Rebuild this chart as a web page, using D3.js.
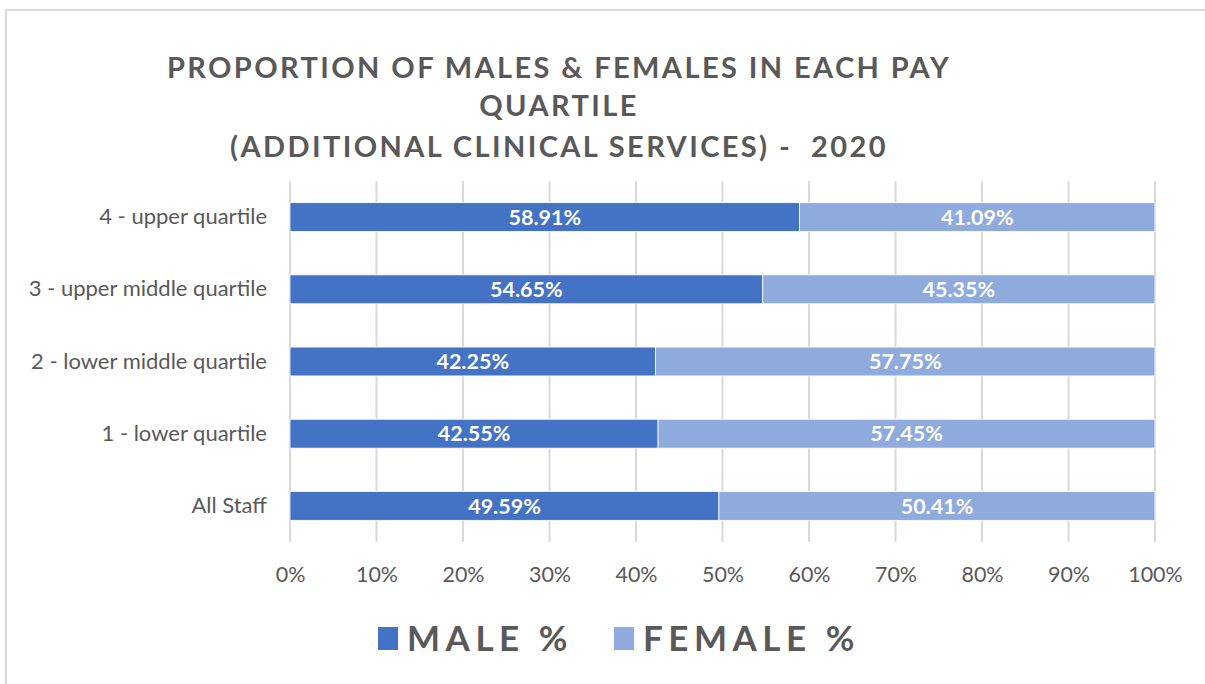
<!DOCTYPE html>
<html>
<head>
<meta charset="utf-8">
<script src="https://cdn.jsdelivr.net/npm/d3@7"></script>
<style>
	body { margin: 0; background: #fff; }
	text { font-family: Lato, "Open Sans", sans-serif; }
</style>
</head>
<body>
<div id="chart"></div>
<script>
	// chart data
	var categories = ["4 - upper quartile", "3 - upper middle quartile", "2 - lower middle quartile", "1 - lower quartile", "All Staff"];
	var maleValues = [58.91, 54.65, 42.25, 42.55, 49.59];
	var femaleValues = [41.09, 45.35, 57.75, 57.45, 50.41];
	var seriesNames = ["MALE %", "FEMALE %"];
	var seriesColors = ["#4472C4", "#8FAADC"];
	var titleLines = ["PROPORTION OF MALES & FEMALES IN EACH PAY", "QUARTILE", "(ADDITIONAL CLINICAL SERVICES) -  2020"];
	var xTicks = [0, 10, 20, 30, 40, 50, 60, 70, 80, 90, 100];

	var width = 1205, height = 684;
	var svg = d3.select("#chart").append("svg")
		.attr("width", width)
		.attr("height", height);

	// chart border (only top & left visible in the crop)
	svg.append("line").attr("x1", 6).attr("x2", width).attr("y1", 10).attr("y2", 10)
		.attr("stroke", "#d9d9d9").attr("stroke-width", 2);
	svg.append("line").attr("x1", 6).attr("x2", 6).attr("y1", 10).attr("y2", height)
		.attr("stroke", "#d9d9d9").attr("stroke-width", 2);

	// title
	svg.append("g").selectAll("text")
		.data(titleLines)
		.enter().append("text")
		.attr("x", 559)
		.attr("y", function (d, i) { return [78, 116, 157][i]; })
		.attr("text-anchor", "middle")
		.attr("fill", "#595959")
		.style("font-size", "29px")
		.style("font-weight", "bold")
		.style("letter-spacing", "2.4px")
		.style("white-space", "pre")
		.text(function (d) { return d; });

	var x = d3.scaleLinear().domain([0, 100]).range([290, 1155]);
	var y = d3.scaleBand().domain(categories).range([181, 542])
		.paddingInner(0.6).paddingOuter(0.3);

	// gridlines
	svg.append("g").selectAll("line")
		.data(xTicks)
		.enter().append("line")
		.attr("x1", function (d) { return x(d); })
		.attr("x2", function (d) { return x(d); })
		.attr("y1", 181).attr("y2", 542)
		.attr("stroke", "#d9d9d9").attr("stroke-width", 2);

	// x axis labels
	var xAxis = svg.append("g")
		.attr("transform", "translate(0,564)")
		.call(d3.axisBottom(x).tickValues(xTicks).tickSize(0).tickFormat(function (d) { return d + "%"; }));
	xAxis.select(".domain").remove();
	xAxis.selectAll("text")
		.attr("fill", "#595959")
		.style("font-size", "21.5px")
		.style("font-family", "Lato, sans-serif");

	// category labels
	var yAxis = svg.append("g")
		.attr("transform", "translate(267,0)")
		.call(d3.axisLeft(y).tickSize(0).tickPadding(0));
	yAxis.select(".domain").remove();
	yAxis.selectAll("text")
		.attr("fill", "#595959")
		.style("font-size", "22px")
		.style("font-family", "Lato, sans-serif");

	// stacked data
	var rows = categories.map(function (c, i) {
		return { cat: c, male: maleValues[i], female: femaleValues[i] };
	});
	var stack = d3.stack().keys(["male", "female"])(rows);

	var layers = svg.append("g").selectAll("g")
		.data(stack)
		.enter().append("g")
		.attr("fill", function (d, i) { return seriesColors[i]; });

	layers.selectAll("rect")
		.data(function (d) { return d; })
		.enter().append("rect")
		.attr("x", function (d) { return x(d[0]); })
		.attr("width", function (d) { return x(d[1]) - x(d[0]); })
		.attr("y", function (d) { return y(d.data.cat); })
		.attr("height", y.bandwidth())
		.attr("stroke", "#fff")
		.attr("stroke-width", 0.8);

	layers.selectAll("text")
		.data(function (d) { return d; })
		.enter().append("text")
		.attr("x", function (d) { return (x(d[0]) + x(d[1])) / 2; })
		.attr("y", function (d) { return y(d.data.cat) + y.bandwidth() / 2; })
		.attr("dy", "0.36em")
		.attr("text-anchor", "middle")
		.attr("fill", "#fff")
		.style("font-size", "21.5px")
		.style("font-weight", "bold")
		.text(function (d) { return (d[1] - d[0]).toFixed(2) + "%"; });

	// legend
	var legendX = [378, 614];
	var legend = svg.append("g").selectAll("g")
		.data(seriesNames)
		.enter().append("g")
		.attr("transform", function (d, i) { return "translate(" + legendX[i] + ",0)"; });
	legend.append("rect")
		.attr("x", 0).attr("y", 627).attr("width", 20).attr("height", 23)
		.attr("fill", function (d, i) { return seriesColors[i]; });
	legend.append("text")
		.attr("x", 29).attr("y", 651)
		.attr("fill", "#595959")
		.style("font-size", "35px")
		.style("font-weight", "bold")
		.style("letter-spacing", "5.5px")
		.style("white-space", "pre")
		.text(function (d) { return d; });
</script>
</body>
</html>
